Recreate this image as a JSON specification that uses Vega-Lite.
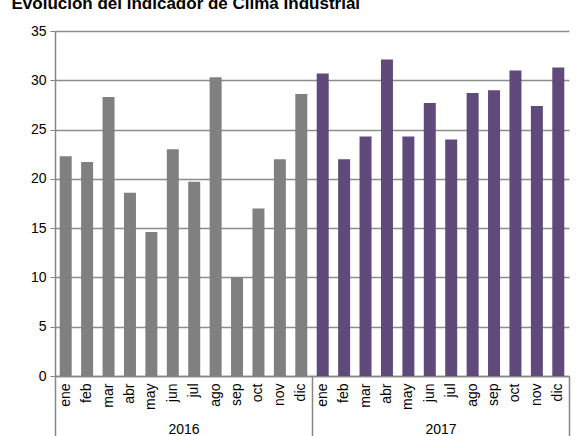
{
  "$schema": "https://vega.github.io/schema/vega-lite/v6.json",
  "width": 514,
  "height": 345,
  "autosize": {"type": "none"},
  "padding": {"left": 55, "top": 31, "right": 8, "bottom": 60},
  "background": "white",
  "config": {
    "view": {"stroke": null},
    "font": "Liberation Sans",
    "axis": {"labelFontSize": 14, "labelFont": "Liberation Sans", "labelColor": "#000000"}
  },
  "data": {
    "values": [
      {"year": "2016", "month": "ene", "key": "2016 ene", "value": 22.3},
      {"year": "2016", "month": "feb", "key": "2016 feb", "value": 21.7},
      {"year": "2016", "month": "mar", "key": "2016 mar", "value": 28.3},
      {"year": "2016", "month": "abr", "key": "2016 abr", "value": 18.6},
      {"year": "2016", "month": "may", "key": "2016 may", "value": 14.6},
      {"year": "2016", "month": "jun", "key": "2016 jun", "value": 23.0},
      {"year": "2016", "month": "jul", "key": "2016 jul", "value": 19.7},
      {"year": "2016", "month": "ago", "key": "2016 ago", "value": 30.3},
      {"year": "2016", "month": "sep", "key": "2016 sep", "value": 10.0},
      {"year": "2016", "month": "oct", "key": "2016 oct", "value": 17.0},
      {"year": "2016", "month": "nov", "key": "2016 nov", "value": 22.0},
      {"year": "2016", "month": "dic", "key": "2016 dic", "value": 28.6},
      {"year": "2017", "month": "ene", "key": "2017 ene", "value": 30.7},
      {"year": "2017", "month": "feb", "key": "2017 feb", "value": 22.0},
      {"year": "2017", "month": "mar", "key": "2017 mar", "value": 24.3},
      {"year": "2017", "month": "abr", "key": "2017 abr", "value": 32.1},
      {"year": "2017", "month": "may", "key": "2017 may", "value": 24.3},
      {"year": "2017", "month": "jun", "key": "2017 jun", "value": 27.7},
      {"year": "2017", "month": "jul", "key": "2017 jul", "value": 24.0},
      {"year": "2017", "month": "ago", "key": "2017 ago", "value": 28.7},
      {"year": "2017", "month": "sep", "key": "2017 sep", "value": 29.0},
      {"year": "2017", "month": "oct", "key": "2017 oct", "value": 31.0},
      {"year": "2017", "month": "nov", "key": "2017 nov", "value": 27.4},
      {"year": "2017", "month": "dic", "key": "2017 dic", "value": 31.3}
    ]
  },
  "layer": [
    {
      "mark": {"type": "bar"},
      "encoding": {
        "x": {
          "field": "key",
          "type": "nominal",
          "sort": null,
          "scale": {"paddingInner": 0.44, "paddingOuter": 0.22},
          "axis": {
            "title": null,
            "labelExpr": "split(datum.label, ' ')[1]",
            "labelAngle": -90,
            "labelFontSize": 14,
            "labelPadding": 7,
            "ticks": false,
            "domainColor": "#868686",
            "domainWidth": 1.5
          }
        },
        "y": {
          "field": "value",
          "type": "quantitative",
          "scale": {"domain": [0, 35], "nice": false},
          "axis": {
            "title": "Evolución del indicador de Clima Industrial",
            "titleAngle": 0,
            "titleAlign": "left",
            "titleBaseline": "alphabetic",
            "titleAnchor": null,
            "titleX": -44,
            "titleY": -23,
            "titleFont": "Liberation Sans",
            "titleFontSize": 17,
            "titleFontWeight": "bold",
            "titleColor": "#000000",
            "values": [0, 5, 10, 15, 20, 25, 30, 35],
            "labelFontSize": 14,
            "labelPadding": 4,
            "tickSize": 5,
            "tickColor": "#868686",
            "domainColor": "#868686",
            "domainWidth": 1.5,
            "gridColor": "#8c8c8c",
            "gridWidth": 1.5
          }
        },
        "color": {
          "field": "year",
          "type": "nominal",
          "scale": {"domain": ["2016", "2017"], "range": ["#808080", "#604a7b"]},
          "legend": null
        }
      }
    },
    {
      "mark": {"type": "bar", "opacity": 0},
      "encoding": {
        "x": {
          "field": "year",
          "type": "nominal",
          "scale": {"paddingInner": 0, "paddingOuter": 0},
          "axis": {
            "title": null,
            "orient": "bottom",
            "labelAngle": 0,
            "labelFontSize": 14,
            "labelBaseline": "bottom",
            "labelPadding": 0,
            "domain": false,
            "tickBand": "extent",
            "tickSize": 60,
            "tickColor": "#868686",
            "tickWidth": 1.5,
            "grid": false
          }
        },
        "y": {"field": "value", "type": "quantitative"}
      }
    }
  ],
  "resolve": {"scale": {"x": "independent"}, "axis": {"x": "independent"}}
}
